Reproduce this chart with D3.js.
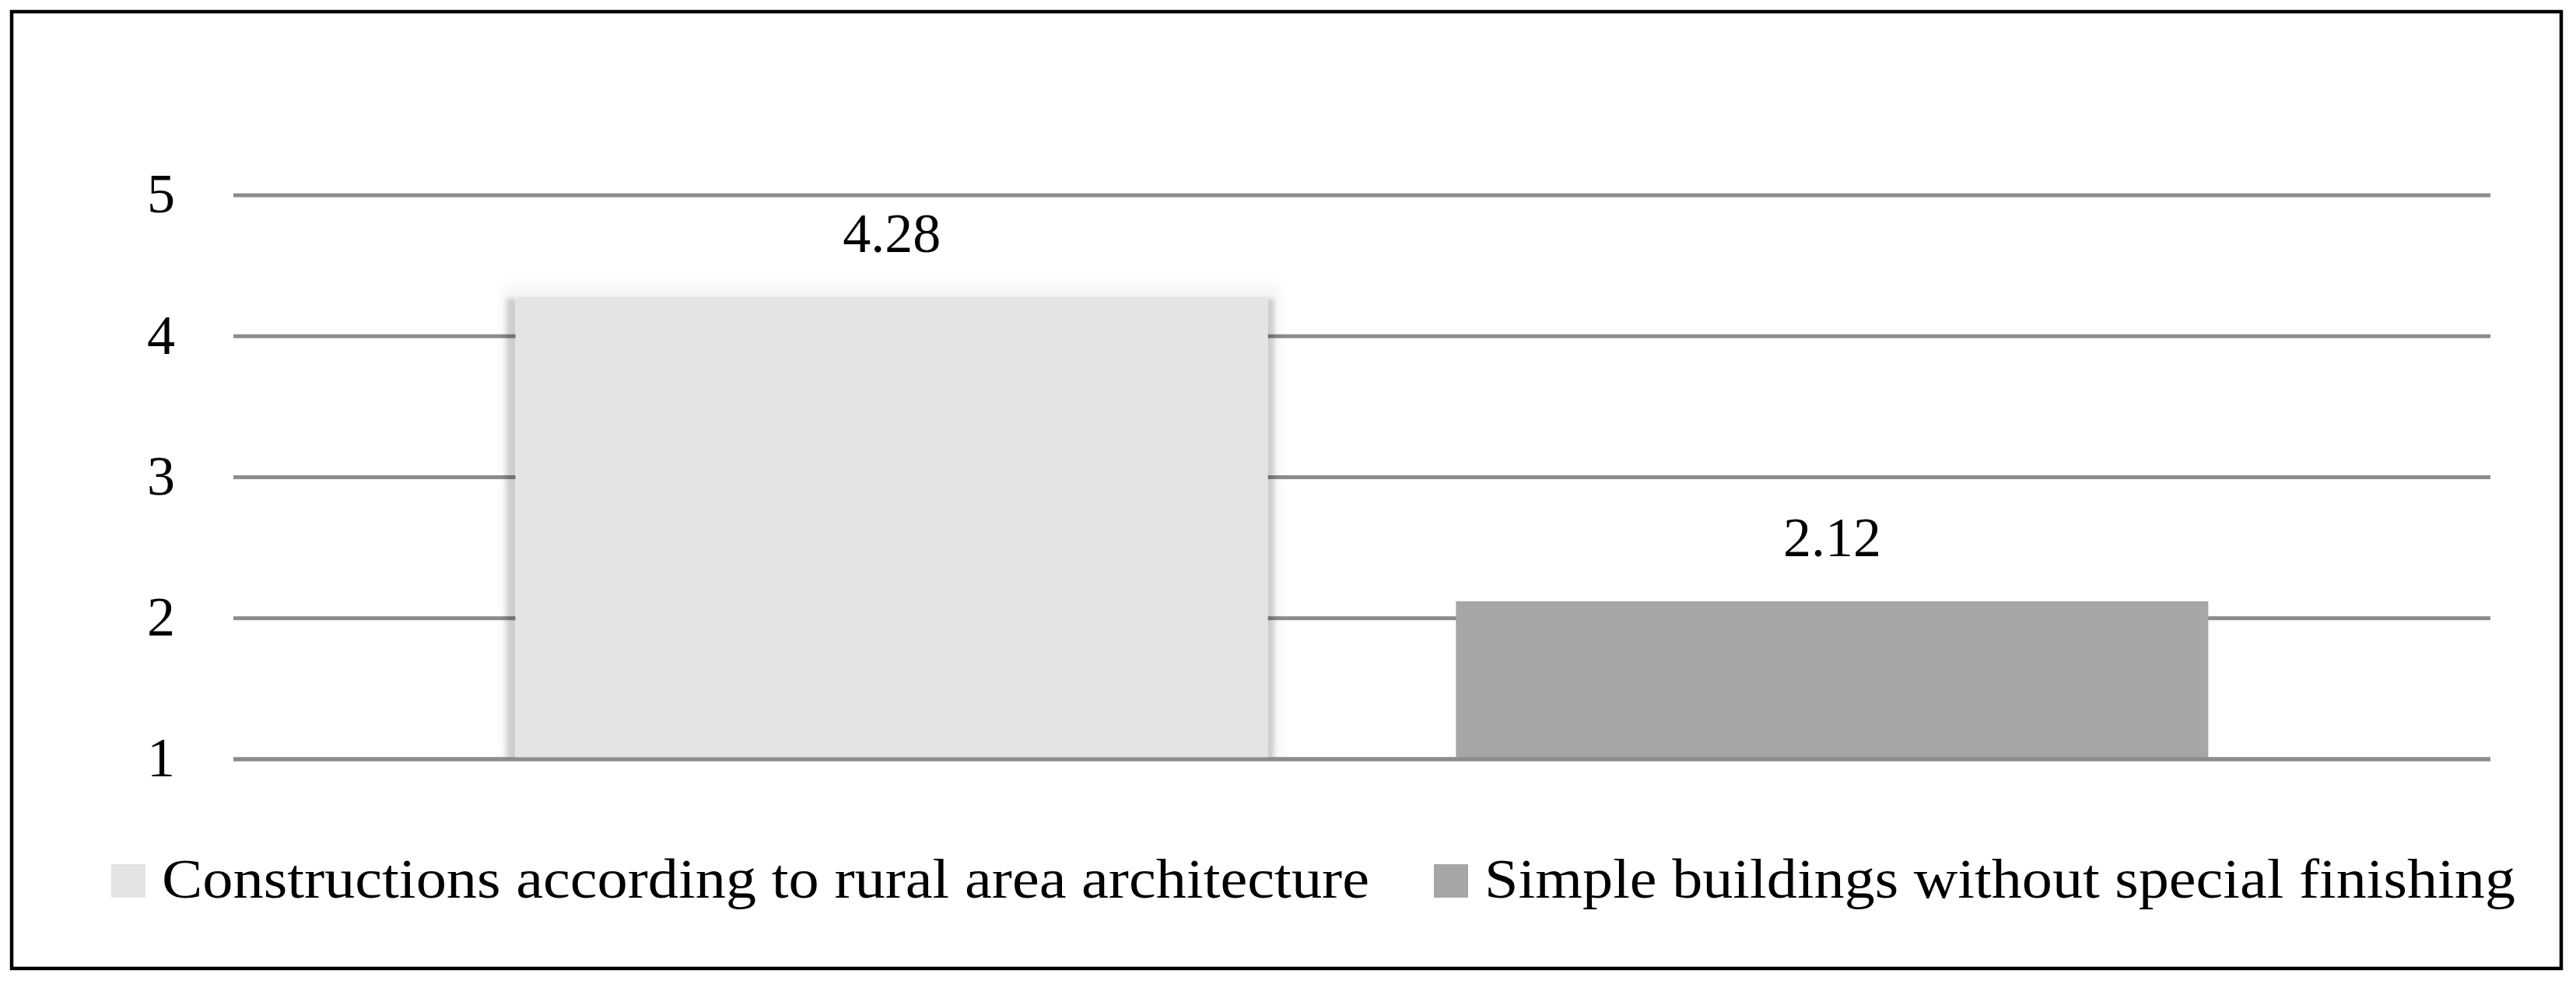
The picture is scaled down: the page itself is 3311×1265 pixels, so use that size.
<!DOCTYPE html>
<html>
<head>
<meta charset="utf-8">
<script src="https://cdn.jsdelivr.net/npm/d3@7"></script>
<style>
  body { margin: 0; background: #fff; }
  text { font-family: "Liberation Serif", "DejaVu Serif", serif; fill: #000; }
  .grid line { stroke: #8c8c8c; stroke-width: 5; }
</style>
</head>
<body>
<div id="chart"></div>
<script>
// data
var series = ["Constructions according to rural area architecture", "Simple buildings without special finishing"];
var values = [4.28, 2.12];
var colors = ["#e4e4e4", "#a6a6a6"];
var yTicks = [1, 2, 3, 4, 5];

var W = 3311, H = 1265;
var plot = {left: 300, right: 3201, top: 251, bottom: 976};

var svg = d3.select("#chart").append("svg")
    .attr("width", W)
    .attr("height", H);

svg.append("rect")
    .attr("width", W).attr("height", H)
    .attr("fill", "#fff");

var x = d3.scaleBand()
    .domain(series)
    .range([plot.left, plot.right])
    .paddingInner(0.2)
    .paddingOuter(0.3);

var y = d3.scaleLinear()
    .domain([1, 5])
    .range([plot.bottom, plot.top]);

// soft shadow used on the first bar, cut off at the baseline
var defs = svg.append("defs");
var f = defs.append("filter").attr("id", "shadow")
    .attr("filterUnits", "userSpaceOnUse")
    .attr("x", 0).attr("y", 0)
    .attr("width", W).attr("height", y(1) + 2);
f.append("feMorphology").attr("in", "SourceAlpha").attr("operator", "dilate").attr("radius", 10).attr("result", "fat");
f.append("feOffset").attr("in", "fat").attr("dx", -2).attr("dy", 12).attr("result", "off");
f.append("feGaussianBlur").attr("in", "off").attr("stdDeviation", 3).attr("result", "b1");
f.append("feComponentTransfer").attr("in", "b1").attr("result", "s1")
    .append("feFuncA").attr("type", "linear").attr("slope", 0.17);
f.append("feMorphology").attr("in", "SourceAlpha").attr("operator", "dilate").attr("radius", 16).attr("result", "fat2");
f.append("feGaussianBlur").attr("in", "fat2").attr("stdDeviation", 8).attr("result", "b2");
f.append("feComponentTransfer").attr("in", "b2").attr("result", "s2")
    .append("feFuncA").attr("type", "linear").attr("slope", 0.04);
var fm = f.append("feMerge");
fm.append("feMergeNode").attr("in", "s2");
fm.append("feMergeNode").attr("in", "s1");
fm.append("feMergeNode").attr("in", "SourceGraphic");

// gridlines
var grid = svg.append("g").attr("class", "grid");
grid.selectAll("line")
    .data(yTicks)
    .enter().append("line")
    .attr("x1", plot.left)
    .attr("x2", plot.right)
    .attr("y1", d => y(d))
    .attr("y2", d => y(d));

// y labels
svg.append("g").selectAll("text")
    .data(yTicks)
    .enter().append("text")
    .attr("x", plot.left - 75)
    .attr("y", d => y(d))
    .attr("dy", "0.31em")
    .attr("text-anchor", "end")
    .style("font-size", "72px")
    .text(d => d);

// bars
var bars = svg.append("g").selectAll("rect")
    .data(series)
    .enter().append("rect")
    .attr("x", d => x(d))
    .attr("width", x.bandwidth())
    .attr("y", (d, i) => y(values[i]))
    .attr("height", (d, i) => y(1) - y(values[i]))
    .attr("fill", (d, i) => colors[i])
    .attr("filter", (d, i) => i === 0 ? "url(#shadow)" : null);

// baseline redrawn over the bars
svg.append("g").attr("class", "grid").append("line")
    .attr("x1", plot.left).attr("x2", plot.right)
    .attr("y1", y(1)).attr("y2", y(1));

// value labels
svg.append("g").selectAll("text")
    .data(series)
    .enter().append("text")
    .attr("x", d => x(d) + x.bandwidth() / 2)
    .attr("y", (d, i) => y(values[i]) - 58)
    .attr("text-anchor", "middle")
    .style("font-size", "72px")
    .text((d, i) => values[i].toFixed(2));

// legend
var legendX = [143, 1843];
var legendW = [1552, 1325];
var legend = svg.append("g").selectAll("g")
    .data(series)
    .enter().append("g")
    .attr("transform", (d, i) => "translate(" + [legendX[i], 1154] + ")");
legend.append("rect")
    .attr("y", -43)
    .attr("width", 44)
    .attr("height", 43)
    .attr("fill", (d, i) => colors[i]);
legend.append("text")
    .attr("x", 65)
    .attr("textLength", (d, i) => legendW[i])
    .attr("lengthAdjust", "spacingAndGlyphs")
    .style("font-size", "72px")
    .text(d => d);

// outer frame
svg.append("rect")
    .attr("x", 15).attr("y", 15)
    .attr("width", 3277).attr("height", 1230)
    .attr("fill", "none")
    .attr("stroke", "#000")
    .attr("stroke-width", 4.5);
</script>
</body>
</html>
